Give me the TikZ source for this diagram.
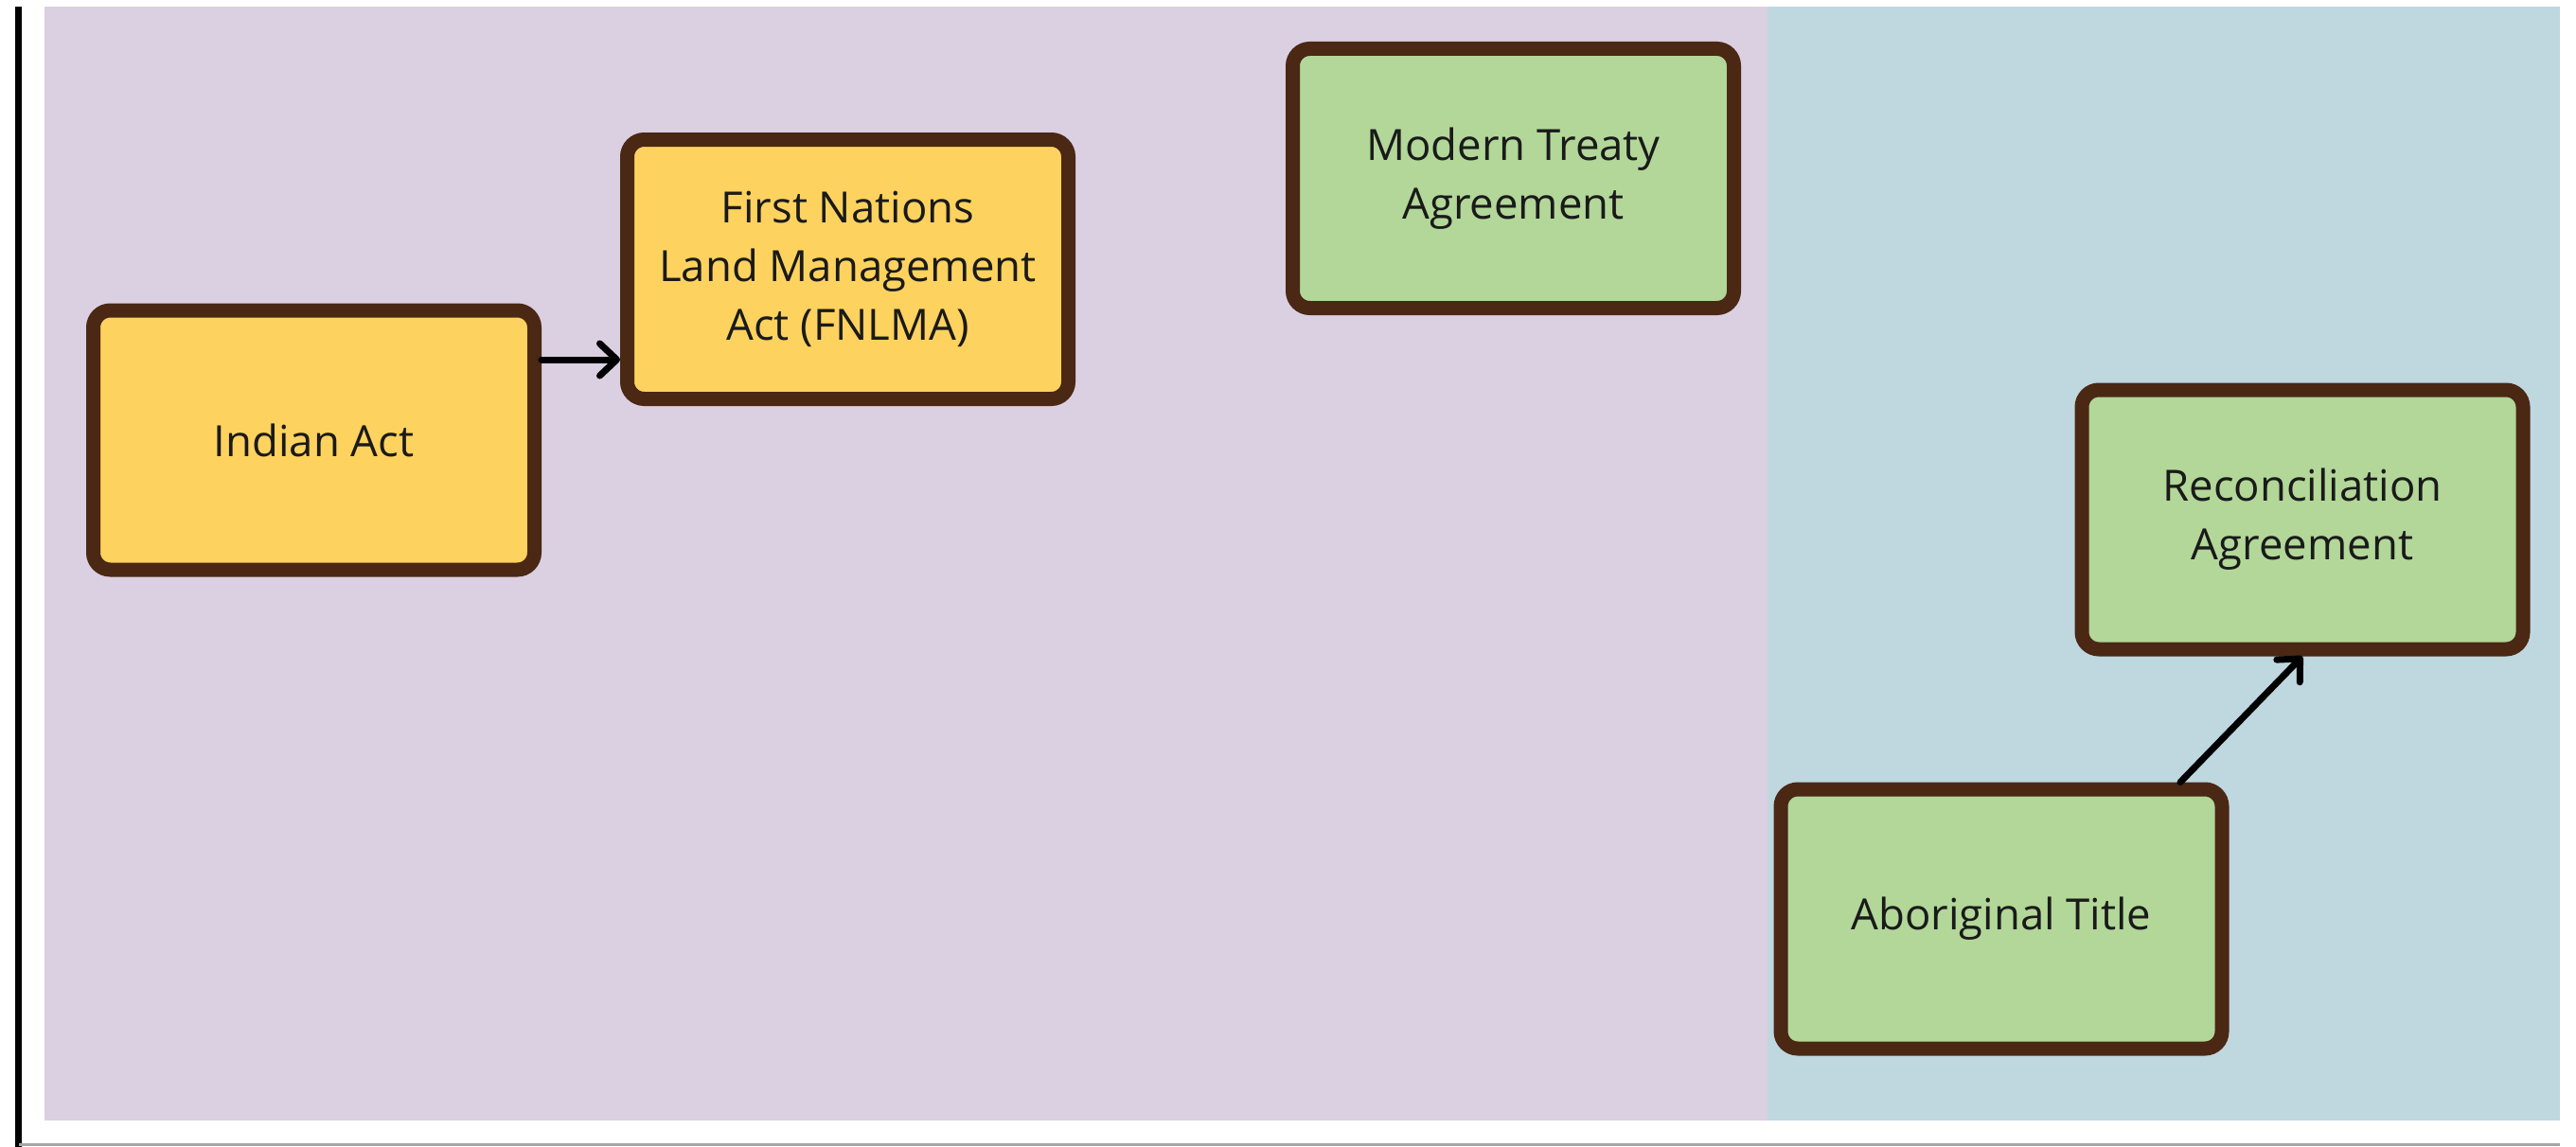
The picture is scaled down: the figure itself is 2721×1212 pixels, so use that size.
\documentclass[tikz,border=0pt]{standalone}
\usepackage{fontspec}
\setmainfont{Open Sans}
\usetikzlibrary{arrows.meta}
\definecolor{panelpurple}{RGB}{219,207,226}
\definecolor{panelblue}{RGB}{191,215,223}
\definecolor{boxyellow}{RGB}{254,210,94}
\definecolor{boxgreen}{RGB}{178,215,153}
\definecolor{boxbrown}{RGB}{74,40,20}
\definecolor{txt}{RGB}{26,26,26}
\tikzset{
  card/.style={rectangle, rounded corners=18pt, draw=boxbrown, line width=15pt,
    minimum width=466pt, minimum height=274pt, align=center, text=txt,
    font=\fontsize{45.5}{62}\selectfont},
  yellowcard/.style={card, fill=boxyellow},
  greencard/.style={card, fill=boxgreen},
  arr/.style={draw=black, line width=7pt, line cap=round,
    -{Straight Barb[length=18pt, width=34pt, line width=7pt, round]}}
}
\begin{document}
\begin{tikzpicture}[x=1pt,y=-1pt]
\useasboundingbox (0,0) rectangle (2721,1212);
\fill[white] (0,0) rectangle (2721,1212);
% panels
\fill[panelpurple] (47,7) rectangle (1867,1184);
\fill[panelblue] (1867,7) rectangle (2704,1184);
% frame lines
\fill[black] (16,7) rectangle (23,1212);
\fill[black!35] (20,1208) rectangle (2704,1211);
% nodes
\node[yellowcard] (indian) at (331.5,465) {Indian Act};
\node[yellowcard] (fnlma) at (895.5,284.5) {First Nations\\Land Management\\Act (FNLMA)};
\node[greencard] (treaty) at (1598.5,188.5) {Modern Treaty\\Agreement};
\node[greencard] (recon) at (2432,549) {Reconciliation\\Agreement};
\node[greencard] (abor) at (2114,971) {Aboriginal Title};
% connectors
\draw[arr] ([yshift=85pt]indian.east) -- ([yshift=85pt]indian.east -| fnlma.west);
\draw[arr] ([xshift=189pt]abor.north) -- (recon.south);
\end{tikzpicture}
\end{document}
